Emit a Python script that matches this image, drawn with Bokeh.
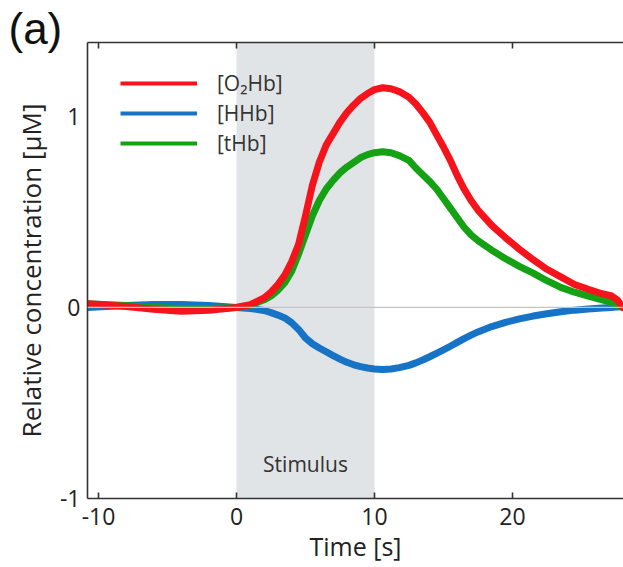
from bokeh.plotting import figure
from bokeh.models import (BoxAnnotation, Span, Label, Legend, LegendItem, LinearAxis,
                          FixedTicker, ColumnDataSource, Range1d)
from bokeh.embed import file_html
from bokeh.resources import INLINE

# ---- data ----
time_s = [-10.8, -8, -6, -4, -2, 0, 1, 2, 2.5, 3, 3.5, 4, 4.5, 5, 5.5, 6, 6.5, 7, 7.5, 8,
          8.5, 9, 9.5, 10, 10.6, 11.2, 11.8, 12.5, 13, 13.5, 14, 14.5, 15, 15.5, 16, 16.5,
          17, 17.5, 18.5, 19.5, 20.5, 21.5, 22.5, 23.5, 24.5, 25.5, 26.5, 27.2, 27.6, 28.0]
o2hb = [0.02, 0.005, -0.01, -0.02, -0.015, 0.0, 0.015, 0.05, 0.08, 0.12, 0.17, 0.24, 0.33,
        0.48, 0.64, 0.76, 0.85, 0.91, 0.97, 1.02, 1.06, 1.095, 1.12, 1.14, 1.15, 1.145, 1.13,
        1.10, 1.065, 1.02, 0.97, 0.905, 0.84, 0.77, 0.69, 0.62, 0.56, 0.51, 0.43, 0.365,
        0.305, 0.25, 0.20, 0.16, 0.12, 0.095, 0.072, 0.06, 0.04, 0.0]
hhb = [0.0, 0.01, 0.015, 0.015, 0.01, 0.0, -0.005, -0.016, -0.027, -0.04, -0.055, -0.08,
       -0.115, -0.16, -0.19, -0.212, -0.232, -0.252, -0.27, -0.287, -0.30, -0.31, -0.317,
       -0.322, -0.325, -0.322, -0.315, -0.303, -0.29, -0.275, -0.258, -0.24, -0.222, -0.203,
       -0.183, -0.163, -0.145, -0.128, -0.10, -0.078, -0.06, -0.045, -0.033, -0.022, -0.014,
       -0.008, -0.003, 0.0, 0.003, 0.005]
thb = [0.02, 0.01, 0.0, -0.005, -0.005, 0.0, 0.012, 0.04, 0.06, 0.09, 0.13, 0.19, 0.28,
       0.38, 0.48, 0.56, 0.62, 0.665, 0.705, 0.735, 0.76, 0.785, 0.80, 0.81, 0.815, 0.81,
       0.795, 0.77, 0.73, 0.695, 0.66, 0.62, 0.57, 0.52, 0.47, 0.42, 0.38, 0.35, 0.30, 0.255,
       0.215, 0.18, 0.14, 0.105, 0.08, 0.06, 0.04, 0.026, 0.012, 0.0]
series_names = ["[O\u2082Hb]", "[HHb]", "[tHb]"]
stimulus = [0, 10]
x_ticks = [-10, 0, 10, 20]
x_tick_labels = ["-10", "0", "10", "20"]
y_ticks = [-1, 0, 1]
y_tick_labels = ["-1", "0", "1"]
panel_label = "(a)"

RED, BLUE, GREEN = "#f5141b", "#1673c6", "#14a114"
FONT = "Open Sans"
TXT = "#222222"

p = figure(width=623, height=567, output_backend="svg", toolbar_location=None,
           x_range=Range1d(-10.8, 28.05), y_range=Range1d(-1.0, 1.387),
           min_border_left=87, min_border_right=0, min_border_top=42, min_border_bottom=69,
           title=panel_label, title_location="above")
p.outline_line_color = None
p.xgrid.visible = False
p.ygrid.visible = False
p.background_fill_color = "white"

# panel label as a left-aligned title shifted over the left border
p.title.text_font = "Liberation Sans"
p.title.text_font_size = "44px"
p.title.text_font_style = "normal"
p.title.text_color = "#111111"
p.title.align = "left"
p.title.offset = -79
p.title.standoff = -21

# stimulus shading
p.add_layout(BoxAnnotation(left=stimulus[0], right=stimulus[1], fill_color="#e1e4e6",
                           fill_alpha=1.0, line_color=None, level="underlay"))
p.add_layout(Span(location=0, dimension="width", line_color="#c4c4c4", line_width=1.2))

src = ColumnDataSource(dict(t=time_s, o2=o2hb, hh=hhb, th=thb))
# thin copies (hidden under the thick lines) used only for the legend samples
lb = p.line("t", "hh", source=src, line_color=BLUE, line_width=4)
lg = p.line("t", "th", source=src, line_color=GREEN, line_width=4)
lr = p.line("t", "o2", source=src, line_color=RED, line_width=4)
p.line("t", "hh", source=src, line_color=BLUE, line_width=7, line_cap="round", line_join="round")
p.line("t", "th", source=src, line_color=GREEN, line_width=7, line_cap="round", line_join="round")
p.line("t", "o2", source=src, line_color=RED, line_width=7, line_cap="round", line_join="round")

legend = Legend(items=[LegendItem(label=series_names[0], renderers=[lr]),
                       LegendItem(label=series_names[1], renderers=[lb]),
                       LegendItem(label=series_names[2], renderers=[lg])],
                location=(33, 340), padding=0, spacing=0, margin=0,
                glyph_width=77, glyph_height=30, label_height=30, label_standoff=20,
                label_text_font=FONT, label_text_font_size="21px", label_text_color="#333333",
                background_fill_alpha=0, border_line_color=None)
p.add_layout(legend)

p.add_layout(Label(x=(stimulus[0] + stimulus[1]) / 2, y=-0.82, text="Stimulus",
                   text_align="center", text_baseline="middle", text_font=FONT,
                   text_font_size="21px", text_color="#333333"))

# axes
for ax in (p.xaxis[0], p.yaxis[0]):
    ax.axis_line_color = "#333333"
    ax.axis_line_width = 1.6
    ax.major_label_text_font = FONT
    ax.major_label_text_font_size = "23px"
    ax.major_label_text_color = TXT
    ax.axis_label_text_font = FONT
    ax.axis_label_text_font_style = "normal"
    ax.axis_label_text_color = TXT
    ax.minor_tick_line_color = None

p.xaxis[0].ticker = FixedTicker(ticks=x_ticks)
p.xaxis[0].major_label_overrides = dict(zip(x_ticks, x_tick_labels))
p.xaxis[0].major_tick_in = 6
p.xaxis[0].major_tick_out = 0
p.xaxis[0].major_tick_line_color = "#333333"
p.xaxis[0].major_tick_line_width = 1.6
p.xaxis[0].major_label_standoff = 9
p.xaxis[0].axis_label = "Time [s]"
p.xaxis[0].axis_label_text_font_size = "25px"
p.xaxis[0].axis_label_standoff = 1

p.yaxis[0].ticker = FixedTicker(ticks=y_ticks)
p.yaxis[0].major_label_overrides = dict(zip(y_ticks, y_tick_labels))
p.yaxis[0].major_tick_in = 0
p.yaxis[0].major_tick_out = 0
p.yaxis[0].major_label_standoff = 7
p.yaxis[0].axis_label = "Relative concentration [\u00b5M]"
p.yaxis[0].axis_label_text_font_size = "26px"
p.yaxis[0].axis_label_standoff = 8

top = LinearAxis(ticker=FixedTicker(ticks=x_ticks),
                 major_label_overrides={t: "" for t in x_ticks},
                 major_tick_in=6, major_tick_out=0, major_tick_line_color="#333333",
                 major_tick_line_width=1.6, axis_line_color="#333333", axis_line_width=1.6,
                 minor_tick_line_color=None, major_label_text_font_size="0px")
p.add_layout(top, "above")

open("out.html", "w").write(file_html(p, INLINE))
